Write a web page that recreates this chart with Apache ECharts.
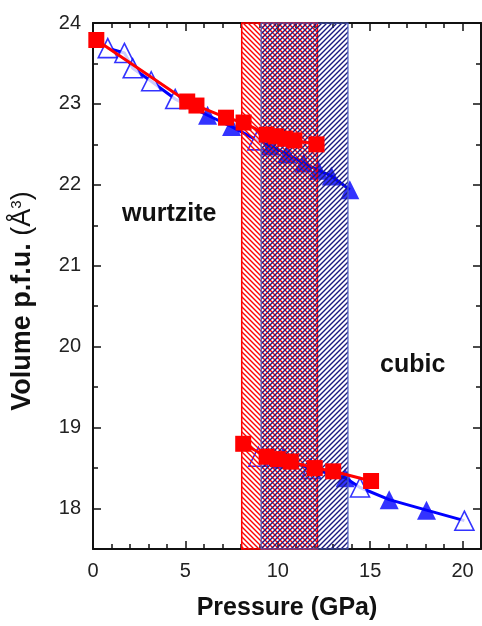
<!DOCTYPE html>
<html>
<head>
<meta charset="utf-8">
<script src="https://cdn.jsdelivr.net/npm/echarts@6/dist/echarts.min.js"></script>
<style>html,body{margin:0;padding:0;background:#fff}#c{width:482px;height:626px}</style>
</head>
<body>
<div id="c"></div>
<script>
// ---- data (Pressure GPa, Volume Å^3) ----
const wzRed = [[0.18,23.79],[5.1,23.03],[5.6,22.98],[7.2,22.83],[8.15,22.77],[9.4,22.62],[9.9,22.60],[10.4,22.57],[10.9,22.55],[12.1,22.50]];
const wzBlueOpen = [[0.8,23.69],[1.7,23.63],[2.15,23.44],[3.15,23.28],[4.45,23.06],[8.9,22.55]];
const wzBlueFilled = [[6.2,22.86],[7.5,22.72],[9.6,22.48],[10.5,22.38],[11.4,22.27],[12.2,22.18],[12.9,22.11],[13.9,21.94]];
const cuRed = [[8.13,18.80],[9.4,18.64],[10.0,18.61],[10.7,18.58],[12.0,18.50],[13.0,18.46],[15.05,18.34]];
const cuBlueOpen = [[8.95,18.64],[10.3,18.62],[11.8,18.49],[14.45,18.26],[20.1,17.85]];
const cuBlueFilled = [[13.65,18.38],[16.03,18.11],[18.05,17.98]];
// transition ranges (GPa)
const redRange = [8.05, 12.15];
const blueRange = [9.1, 13.8];
// ticks
const xMajor = [0,5,10,15,20];
const xMinor = [1,2,3,4,6,7,8,9,11,12,13,14,16,17,18,19];
const yMajor = [18,19,20,21,22,23,24];
const yMinor = [17.5,18.5,19.5,20.5,21.5,22.5,23.5];

function sorted(a,b){ return a.concat(b).sort((p,q)=>p[0]-q[0]); }

function hatch(color, back){
  const s = 5;
  const c = document.createElement('canvas'); c.width = s; c.height = s;
  const g = c.getContext('2d');
  g.strokeStyle = color; g.lineWidth = 1.4; g.beginPath();
  if (back) { g.moveTo(-1,-1); g.lineTo(s+1,s+1); g.moveTo(-1,s-1); g.lineTo(1,s+1); g.moveTo(s-1,-1); g.lineTo(s+1,1); }
  else { g.moveTo(-1,s+1); g.lineTo(s+1,-1); g.moveTo(-1,1); g.lineTo(1,-1); g.moveTo(s-1,s+1); g.lineTo(s+1,s-1); }
  g.stroke();
  return c;
}

const FONT = 'Liberation Sans, Arial, sans-serif';
const AX = '#111';
const BLUE = '#0000ff', RED = '#ff0000', NAVY = '#1a1a80';

function xAx(pos, vals, len, line, label, extra){
  return Object.assign({type:'value', min:0, max:21, position:pos,
    axisLine:{show:line, onZero:false, lineStyle:{color:AX, width:2}},
    axisTick:{show:true, inside:true, length:len, customValues:vals, lineStyle:{color:AX, width:1.5}},
    axisLabel:{show:label, customValues:vals, fontSize:20, fontFamily:FONT, color:'#222', margin:12},
    splitLine:{show:false}}, extra||{});
}
function yAx(pos, vals, len, line, label, extra){
  return Object.assign({type:'value', min:17.5, max:24, position:pos,
    axisLine:{show:line, onZero:false, lineStyle:{color:AX, width:2}},
    axisTick:{show:true, inside:true, length:len, customValues:vals, lineStyle:{color:AX, width:1.5}},
    axisLabel:{show:label, customValues:vals, fontSize:20, fontFamily:FONT, color:'#222', margin:12},
    splitLine:{show:false}}, extra||{});
}

const chart = echarts.init(document.getElementById('c'), null, {renderer:'canvas'});
const openStyle = {color:'#fff', borderColor:BLUE, borderWidth:1.6};
const option = {
  animation:false,
  grid:{left:93, right:1, top:23, bottom:74, containLabel:false},
  xAxis:[
    xAx('bottom', xMajor, 8, true, true, {name:'Pressure (GPa)', nameLocation:'middle', nameGap:47,
      nameTextStyle:{fontSize:25, fontWeight:'bold', fontFamily:FONT, color:'#111'}}),
    xAx('bottom', xMinor, 5, false, false),
    xAx('top', xMajor, 8, true, false),
    xAx('top', xMinor, 5, false, false)
  ],
  yAxis:[
    yAx('left', yMajor, 8, true, true, {name:'{b|Volume p.f.u. }{n|(Å}{s|3}{n|)}', nameLocation:'middle', nameGap:56, nameRotate:90,
      nameTextStyle:{padding:[0,30,0,0], rich:{
        b:{fontSize:27, fontWeight:'bold', fontFamily:FONT, color:'#111'},
        n:{fontSize:27, fontFamily:FONT, color:'#111'},
        s:{fontSize:15, fontFamily:FONT, color:'#111', verticalAlign:'top', padding:[0,0,13,0]}}}}),
    yAx('left', yMinor, 5, false, false),
    yAx('right', yMajor, 8, true, false),
    yAx('right', yMinor, 5, false, false)
  ],
  graphic:[
    {type:'text', left:122, top:202, z:100, style:{text:'wurtzite', fontSize:25, fontWeight:'bold', fontFamily:FONT, fill:'#111'}},
    {type:'text', left:380, top:353, z:100, style:{text:'cubic', fontSize:25, fontWeight:'bold', fontFamily:FONT, fill:'#111'}}
  ],
  series:[
    {type:'line', name:'wzBlueLine', data:sorted(wzBlueOpen, wzBlueFilled), showSymbol:false, symbol:'none', z:2,
      lineStyle:{color:BLUE, width:3}},
    {type:'line', name:'cuBlueLine', data:sorted(cuBlueOpen, cuBlueFilled), showSymbol:false, symbol:'none', z:2,
      lineStyle:{color:BLUE, width:3}},
    {type:'scatter', data:wzBlueFilled, symbol:'triangle', symbolSize:19, z:2, itemStyle:{color:BLUE}},
    {type:'scatter', data:cuBlueFilled, symbol:'triangle', symbolSize:19, z:2, itemStyle:{color:BLUE}},
    {type:'scatter', data:wzBlueOpen, symbol:'triangle', symbolSize:19, z:2, itemStyle:openStyle},
    {type:'scatter', data:cuBlueOpen, symbol:'triangle', symbolSize:19, z:2, itemStyle:openStyle},
    {type:'line', name:'hatch', data:[], z:3, markArea:{silent:true, z:3, data:[
      [{xAxis:redRange[0], itemStyle:{color:{image:hatch(RED,true), repeat:'repeat'}, borderColor:RED, borderWidth:1.5}}, {xAxis:redRange[1]}],
      [{xAxis:blueRange[0], itemStyle:{color:{image:hatch(NAVY,false), repeat:'repeat'}, borderColor:'#5060c0', borderWidth:1.2}}, {xAxis:blueRange[1]}]
    ]}},
    {type:'line', name:'wzRed', data:wzRed, symbol:'rect', symbolSize:16, z:5,
      lineStyle:{color:RED, width:3}, itemStyle:{color:RED}},
    {type:'line', name:'cuRed', data:cuRed, symbol:'rect', symbolSize:16, z:5,
      lineStyle:{color:RED, width:3}, itemStyle:{color:RED}}
  ]
};
chart.setOption(option);
</script>
</body>
</html>
